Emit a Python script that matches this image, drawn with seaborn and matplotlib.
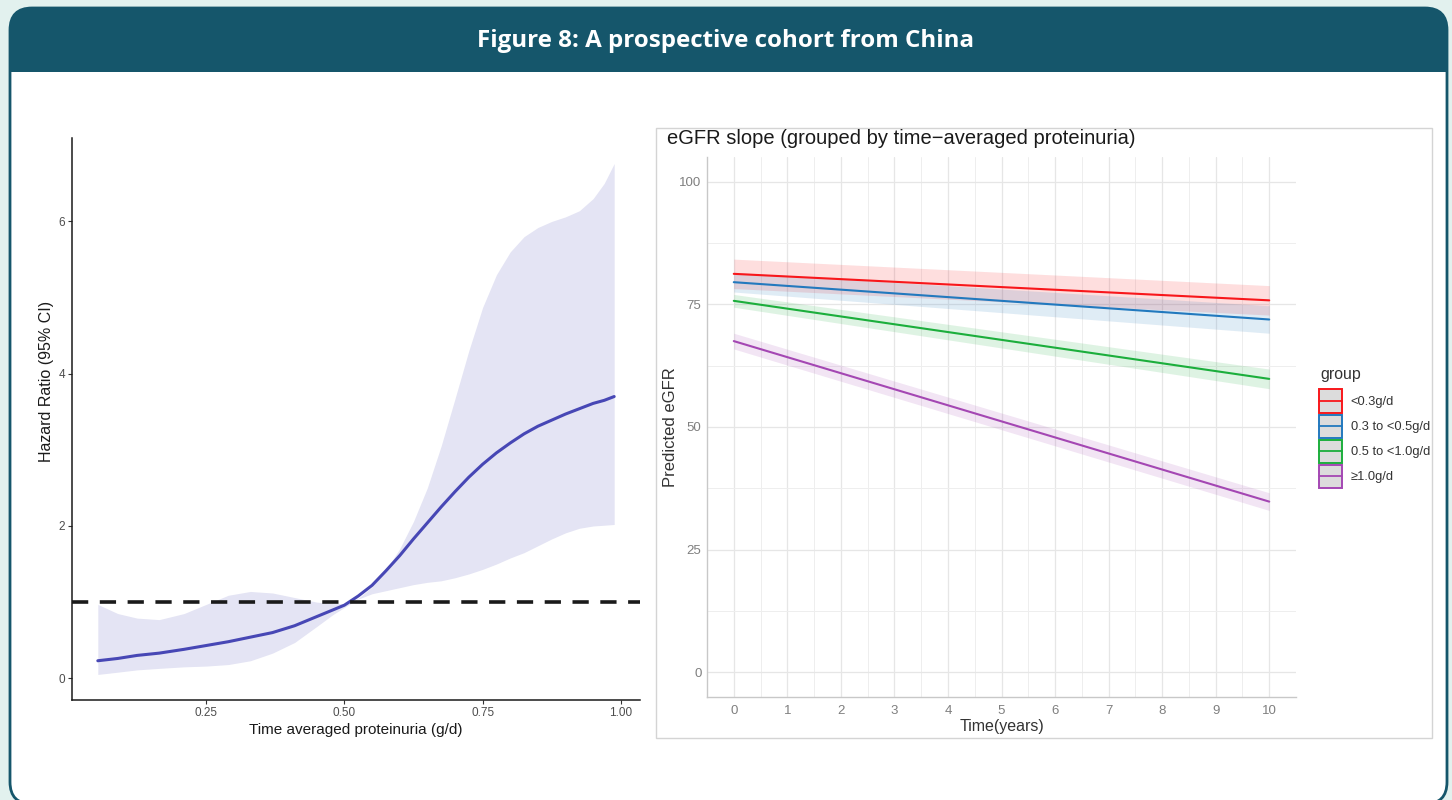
import numpy as np
import pandas as pd
import seaborn as sns
import matplotlib
matplotlib.use("Agg")
import matplotlib.pyplot as plt
from matplotlib.patches import FancyBboxPatch, Rectangle
from matplotlib.lines import Line2D
from matplotlib.legend_handler import HandlerBase

# ---------------- data ----------------
# Restricted cubic spline: hazard ratio vs time-averaged proteinuria
tap_x = [0.054, 0.09, 0.125, 0.165, 0.21, 0.25, 0.29, 0.33, 0.37, 0.41, 0.45,
         0.48, 0.50, 0.525, 0.55, 0.575, 0.60, 0.625, 0.65, 0.675, 0.70, 0.725,
         0.75, 0.775, 0.80, 0.825, 0.85, 0.875, 0.90, 0.925, 0.95, 0.97, 0.988]
hr = [0.23, 0.26, 0.30, 0.33, 0.38, 0.43, 0.48, 0.54, 0.60, 0.69, 0.81,
      0.90, 0.96, 1.08, 1.22, 1.41, 1.61, 1.83, 2.04, 2.25, 2.45, 2.64,
      2.81, 2.96, 3.09, 3.21, 3.31, 3.39, 3.47, 3.54, 3.61, 3.65, 3.70]
hr_upper = [0.97, 0.85, 0.79, 0.77, 0.85, 0.97, 1.09, 1.14, 1.12, 1.06, 1.00,
            0.98, 0.98, 1.05, 1.20, 1.42, 1.70, 2.06, 2.50, 3.05, 3.67, 4.30,
            4.87, 5.30, 5.60, 5.80, 5.92, 6.00, 6.06, 6.14, 6.30, 6.50, 6.76]
hr_lower = [0.05, 0.08, 0.11, 0.13, 0.15, 0.16, 0.18, 0.23, 0.33, 0.47, 0.68,
            0.84, 0.93, 1.04, 1.11, 1.15, 1.19, 1.23, 1.26, 1.28, 1.32, 1.37,
            1.43, 1.50, 1.58, 1.65, 1.74, 1.83, 1.91, 1.97, 2.00, 2.01, 2.02]
hr_ref = 1.0

# eGFR slope by proteinuria group
groups = ["<0.3g/d", "0.3 to <0.5g/d", "0.5 to <1.0g/d", "\u22651.0g/d"]
years = [0, 10]
egfr_start = [81.2, 79.5, 75.7, 67.5]
egfr_end = [75.8, 71.9, 59.8, 34.8]
ci_half_start = [3.0, 2.0, 1.3, 1.6]
ci_half_end = [3.0, 2.8, 2.0, 1.8]
group_colors = ["#f8171b", "#2279be", "#1cae3c", "#a447b3"]

x_ticks_left = [0.25, 0.50, 0.75, 1.00]
y_ticks_left = [0, 2, 4, 6]
x_ticks_right = list(range(0, 11))
y_ticks_right = [0, 25, 50, 75, 100]

# ---------------- figure ----------------
sns.set_theme(style="white")
plt.rcParams["font.family"] = ["Liberation Sans", "DejaVu Sans"]

W, H = 1452, 800
fig = plt.figure(figsize=(W / 100, H / 100), dpi=100)
fig.patch.set_facecolor("#e2f1ee")

# card with header band
bg = fig.add_axes([0, 0, 1, 1], zorder=-5)
bg.set_xlim(0, W)
bg.set_ylim(H, 0)
bg.axis("off")
teal = "#15566b"
card_box = dict(boxstyle="round,pad=0,rounding_size=22")
bg.add_patch(FancyBboxPatch((10, 8), 1437, 796, facecolor="white",
                            edgecolor=teal, lw=2, **card_box))
bg.add_patch(FancyBboxPatch((10, 8), 1437, 64, facecolor=teal,
                            edgecolor="none", **card_box))
bg.add_patch(Rectangle((10, 40), 1437, 32, facecolor=teal, edgecolor="none"))
bg.text(W / 2, 41, "Figure 8: A prospective cohort from China", color="white",
        fontsize=17.4, fontweight="bold", ha="center", va="center",
        family=["Open Sans", "DejaVu Sans"])
# frame around right-hand figure
bg.add_patch(Rectangle((656, 128), 776, 610, facecolor="white",
                       edgecolor="#d4d4d4", lw=1))

# ---------------- left panel: spline ----------------
axL = fig.add_axes([72 / W, 1 - 700 / H, 568 / W, 562 / H])
axL.set_facecolor("none")
axL.fill_between(tap_x, hr_lower, hr_upper, color="#e4e4f4", lw=0, zorder=1)
sns.lineplot(x=tap_x, y=hr, ax=axL, color="#4747b5", lw=2.2, zorder=3)
axL.axhline(hr_ref, color="#1a1a1a", lw=2.6, ls=(0, (4.5, 3.2)), zorder=4)

span = max(tap_x) - min(tap_x)
axL.set_xlim(min(tap_x) - 0.05 * span, max(tap_x) + 0.05 * span)
yspan = max(hr_upper) - min(hr_lower)
axL.set_ylim(min(hr_lower) - 0.05 * yspan, max(hr_upper) + 0.05 * yspan)
axL.set_xticks(x_ticks_left)
axL.set_xticklabels([f"{v:.2f}" for v in x_ticks_left])
axL.set_yticks(y_ticks_left)
axL.tick_params(axis="both", length=3, width=0.8, color="#333333",
                labelcolor="#4d4d4d", labelsize=8.5, pad=2, bottom=True, left=True)
for s in ["top", "right"]:
    axL.spines[s].set_visible(False)
for s in ["left", "bottom"]:
    axL.spines[s].set_color("#1a1a1a")
    axL.spines[s].set_linewidth(1.1)
axL.set_xlabel("Time averaged proteinuria (g/d)", fontsize=11, color="#1a1a1a", labelpad=3)
axL.set_ylabel("Hazard Ratio (95% CI)", fontsize=11.5, color="#1a1a1a")
axL.yaxis.set_label_coords(-0.031, (700 - 381) / 562)

# ---------------- right panel: eGFR slopes ----------------
axR = fig.add_axes([707 / W, 1 - 697 / H, 589 / W, 540 / H])
axR.set_facecolor("white")
rows = []
for g, a, b in zip(groups, egfr_start, egfr_end):
    rows.append({"group": g, "time": years[0], "egfr": a})
    rows.append({"group": g, "time": years[1], "egfr": b})
df = pd.DataFrame(rows)

for g, c, a, b, ha, hb in zip(groups, group_colors, egfr_start, egfr_end,
                              ci_half_start, ci_half_end):
    axR.fill_between(years, [a - ha, b - hb], [a + ha, b + hb],
                     color=c, alpha=0.14, lw=0, zorder=2)
sns.lineplot(data=df, x="time", y="egfr", hue="group", hue_order=groups,
             palette=group_colors, lw=1.5, ax=axR, legend=False, zorder=3)

axR.set_xlim(-0.5, 10.5)
axR.set_ylim(-5, 105)
axR.set_xticks(x_ticks_right)
axR.set_yticks(y_ticks_right)
axR.set_xticks(np.arange(-0.5, 10.6, 1.0), minor=True)
axR.set_yticks([12.5, 37.5, 62.5, 87.5], minor=True)
axR.grid(True, which="major", color="#e6e6e6", lw=0.9, zorder=0)
axR.grid(True, which="minor", color="#eeeeee", lw=0.7, zorder=0)
axR.set_axisbelow(True)
axR.tick_params(axis="x", which="both", length=0, labelcolor="#7f7f7f",
                labelsize=9.5, pad=6)
axR.tick_params(axis="y", which="both", length=0, labelcolor="#7f7f7f",
                labelsize=9.5, pad=4)
for s in ["top", "right"]:
    axR.spines[s].set_visible(False)
for s in ["left", "bottom"]:
    axR.spines[s].set_color("#c8c8c8")
    axR.spines[s].set_linewidth(1.0)
axR.set_xlabel("Time(years)", fontsize=11.5, color="#333333", labelpad=1)
axR.set_ylabel("Predicted eGFR", fontsize=12, color="#333333", labelpad=1)
fig.text(667 / W, 1 - 139 / H, "eGFR slope (grouped by time\u2212averaged proteinuria)",
         fontsize=14.5, color="#1a1a1a", ha="left", va="center")


class FilledKey(HandlerBase):
    """ggplot-style legend key: grey box with coloured outline and a line across."""

    def create_artists(self, legend, orig_handle, xdescent, ydescent,
                       width, height, fontsize, trans):
        c = orig_handle.get_color()
        rect = Rectangle((-xdescent, -ydescent), width, height,
                         facecolor="#dcdcdc", edgecolor=c, lw=1.4, transform=trans)
        line = Line2D([-xdescent, -xdescent + width],
                      [-ydescent + height / 2] * 2, color=c, lw=1.3, transform=trans)
        return [rect, line]


fig.text(1320 / W, 1 - 374 / H, "group", fontsize=11.4, color="#333333",
         ha="left", va="center")
handles = [Line2D([], [], color=c) for c in group_colors]
leg = fig.legend(handles, groups, loc="upper left",
                 bbox_to_anchor=(1319 / W, 1 - 389.5 / H), frameon=False,
                 fontsize=9.3, handlelength=1.75,
                 handleheight=2.37, labelspacing=0.15, handletextpad=0.7,
                 borderaxespad=0, borderpad=0,
                 handler_map={Line2D: FilledKey()})
for t in leg.get_texts():
    t.set_color("#333333")

fig.savefig("out.png", dpi=100, facecolor=fig.get_facecolor())
